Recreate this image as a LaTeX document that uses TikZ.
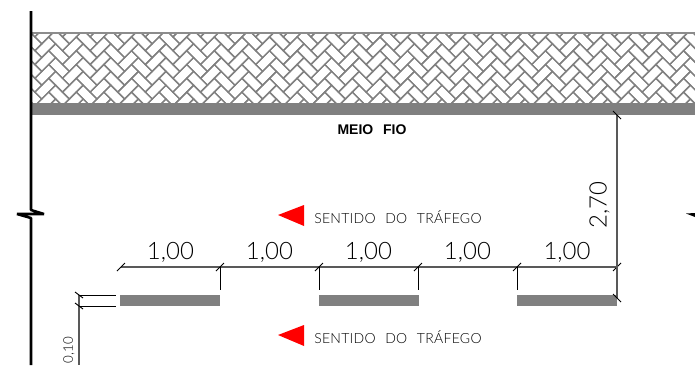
\documentclass[tikz,border=0pt]{standalone}
\usepackage{fontspec}
\setmainfont{Liberation Sans}
\newfontfamily\thinfont{Lato Light}
\usetikzlibrary{calc}
\tikzset{
  x=0.75pt, y=-0.75pt,
  wall/.style={line width=1.9pt, black, line join=bevel},
  dim/.style={line width=0.8pt, black!65},
  tick/.style={line width=0.7pt, black},
  paint/.style={fill=black!50, draw=none, inner sep=0pt},
  lbl/.style={inner sep=0pt, font=\thinfont\fontsize{18}{18}\selectfont, text=black},
  tag/.style={inner sep=0pt, font=\thinfont\fontsize{10.5}{12}\selectfont\addfontfeature{LetterSpace=2}, text=black},
  flag/.style={fill=red, draw=none},
  paver/.pic={
    \draw[black!50, line width=1pt] (0,0) -- (13.8,13.8) -- (6.9,20.7) -- (-6.9,6.9) -- cycle;
    \draw[black!50, line width=1pt] (20.7,6.9) -- (27.6,13.8) -- (13.8,27.6) -- (6.9,20.7) -- cycle;
  },
}
\begin{document}
\begin{tikzpicture}
  \useasboundingbox (0,0) rectangle (695,365);
  % pavers
  \begin{scope}
    \clip (31,33) rectangle (695,103);
    \foreach \i in {0,...,25}
      \foreach \j in {-3,...,6}
        \pic at ({28+\i*27.6},{30+\j*13.8}) {paver};
  \end{scope}
  \draw[black!45, line width=1pt] (31,33) -- (695,33);
  % curb
  \node[paint, anchor=north west, minimum width=664*0.75pt, minimum height=12*0.75pt] (curb) at (31,103) {};
  \node[font=\fontsize{10.5}{11}\selectfont\bfseries, inner sep=0pt] (meio) at (372,130) {MEIO\hspace{0.7em}FIO};
  % wall line with break
  \draw[wall] (31,11) -- (31,210) -- (44,214) -- (17,214) -- (31,218) -- (31,365);
  \fill (686,213.5) -- (695,213) -- (695,217) -- cycle;
  % stripes
  \foreach \n/\xa in {a/120,b/319,c/517}
    \node[paint, anchor=north west, minimum width=100*0.75pt, minimum height=11*0.75pt] (s\n) at (\xa,295) {};
  % dimension line
  \coordinate (d0) at (121,267);
  \coordinate (d1) at (220,267);
  \coordinate (d2) at (319,267);
  \coordinate (d3) at (418,267);
  \coordinate (d4) at (517,267);
  \coordinate (d5) at (617,267);
  \draw[dim] (d0) -- (d5);
  \foreach \c in {d0,d1,d2,d3,d4,d5}
    \draw[tick] ($(\c)+(-4,4)$) -- ($(\c)+(4,-4)$);
  \foreach \c/\e in {d1/220,d2/319,d3/418,d4/517}
    \draw[tick] (\c) -- (\e,290);
  \foreach \a/\b in {d0/d1,d1/d2,d2/d3,d3/d4,d4/d5}
    \node[lbl, anchor=south] at ($(\a)!0.5!(\b)+(0,-4)$) {1,00};
  % 2,70
  \coordinate (top) at (617,115);
  \coordinate (bot) at (617,298);
  \draw[dim] (top) -- (bot);
  \draw[tick] (613,111) -- (621,119);
  \draw[tick] (613,294) -- (621,302);
  \node[lbl, rotate=90, anchor=south] at (610,205) {2,70};
  % 0,10
  \coordinate (w0) at (79,295);
  \coordinate (w1) at (79,306);
  \draw[tick] (w0) -- (116,295);
  \draw[tick] (w1) -- (116,306);
  \draw[dim] (w0) -- (79,365);
  \draw[tick] (75,292) -- (83,298);
  \draw[tick] (75,303) -- (83,309);
  \node[rotate=90, inner sep=0pt, font=\thinfont\fontsize{10}{10}\selectfont] (narrow) at (69,350) {0,10};
  % traffic
  \foreach \y in {216,336}
    \draw[flag] (278,\y-1) -- (304,\y-11) -- (304,\y+10) -- cycle;
  \node[tag, anchor=west] (sa) at (314,217.5) {SENTIDO\hspace{0.4em} DO\hspace{0.4em} TRÁFEGO};
  \node[tag, anchor=west] (sb) at (314,337.5) {SENTIDO\hspace{0.4em} DO\hspace{0.4em} TRÁFEGO};
\end{tikzpicture}
\end{document}
